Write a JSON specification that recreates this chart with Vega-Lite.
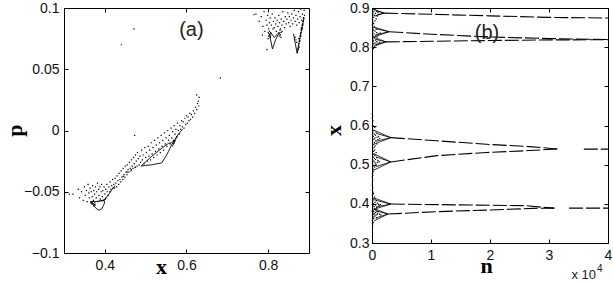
{
"$schema":"https://vega.github.io/schema/vega-lite/v6.json",
"background":"white",
"padding":{"left":2,"top":0,"right":0,"bottom":0},
"config":{
 "view":{"stroke":"black","strokeWidth":1},
 "axis":{"domain":false,"grid":false,"tickColor":"black","tickSize":-4,"tickWidth":1,"labelFont":"Liberation Sans","labelFontSize":14,"labelColor":"#111","labelFlush":false,"labelPadding":9,"titleFont":"Liberation Serif","titleFontWeight":"bold","titleColor":"black","titleFontSize":22}
},
"datasets":{
 "ptsA":[
{"x":0.313,"p":-0.052},{"x":0.322,"p":-0.052},{"x":0.335,"p":-0.048},{"x":0.338,"p":-0.055},{"x":0.343,"p":-0.05},{"x":0.347,"p":-0.057},{"x":0.35,"p":-0.046},{"x":0.352,"p":-0.053},{"x":0.355,"p":-0.049},{"x":0.357,"p":-0.058},
{"x":0.359,"p":-0.044},{"x":0.361,"p":-0.051},{"x":0.362,"p":-0.055},{"x":0.364,"p":-0.047},{"x":0.366,"p":-0.059},{"x":0.367,"p":-0.05},{"x":0.369,"p":-0.054},{"x":0.37,"p":-0.045},{"x":0.372,"p":-0.057},{"x":0.373,"p":-0.049},
{"x":0.375,"p":-0.052},{"x":0.376,"p":-0.06},{"x":0.377,"p":-0.046},{"x":0.379,"p":-0.055},{"x":0.38,"p":-0.05},{"x":0.382,"p":-0.043},{"x":0.383,"p":-0.058},{"x":0.385,"p":-0.048},{"x":0.386,"p":-0.053},{"x":0.388,"p":-0.046},
{"x":0.389,"p":-0.056},{"x":0.391,"p":-0.05},{"x":0.392,"p":-0.044},{"x":0.394,"p":-0.054},{"x":0.395,"p":-0.049},{"x":0.397,"p":-0.057},{"x":0.398,"p":-0.046},{"x":0.4,"p":-0.052},{"x":0.402,"p":-0.048},{"x":0.403,"p":-0.055},
{"x":0.405,"p":-0.044},{"x":0.406,"p":-0.05},{"x":0.408,"p":-0.053},{"x":0.41,"p":-0.046},{"x":0.412,"p":-0.05},{"x":0.413,"p":-0.042},{"x":0.415,"p":-0.048},{"x":0.417,"p":-0.045},{"x":0.419,"p":-0.04},{"x":0.42,"p":-0.047},
{"x":0.366,"p":-0.0585},{"x":0.368,"p":-0.059},{"x":0.37,"p":-0.0595},{"x":0.372,"p":-0.06},{"x":0.374,"p":-0.0605},{"x":0.376,"p":-0.061},{"x":0.371,"p":-0.058},{"x":0.375,"p":-0.0585},{"x":0.369,"p":-0.06},{"x":0.373,"p":-0.0615},
{"x":0.388,"p":-0.0575},{"x":0.392,"p":-0.0572},{"x":0.396,"p":-0.057},{"x":0.399,"p":-0.0565},{"x":0.401,"p":-0.056},
{"x":0.422,"p":-0.044},{"x":0.424,"p":-0.047},{"x":0.425,"p":-0.039},{"x":0.427,"p":-0.043},{"x":0.429,"p":-0.046},{"x":0.43,"p":-0.037},{"x":0.432,"p":-0.041},{"x":0.434,"p":-0.044},{"x":0.435,"p":-0.035},{"x":0.437,"p":-0.04},
{"x":0.439,"p":-0.042},{"x":0.44,"p":-0.033},{"x":0.442,"p":-0.038},{"x":0.444,"p":-0.04},{"x":0.445,"p":-0.031},{"x":0.447,"p":-0.036},{"x":0.449,"p":-0.038},{"x":0.45,"p":-0.029},{"x":0.452,"p":-0.034},{"x":0.454,"p":-0.036},
{"x":0.455,"p":-0.028},{"x":0.457,"p":-0.032},{"x":0.459,"p":-0.034},{"x":0.46,"p":-0.026},{"x":0.462,"p":-0.031},{"x":0.464,"p":-0.033},{"x":0.465,"p":-0.024},{"x":0.467,"p":-0.029},{"x":0.469,"p":-0.031},{"x":0.47,"p":-0.022},
{"x":0.472,"p":-0.027},{"x":0.474,"p":-0.03},{"x":0.475,"p":-0.02},{"x":0.477,"p":-0.025},{"x":0.479,"p":-0.029},{"x":0.48,"p":-0.018},{"x":0.482,"p":-0.023},{"x":0.484,"p":-0.028},{"x":0.486,"p":-0.021},{"x":0.488,"p":-0.026},
{"x":0.49,"p":-0.016},{"x":0.492,"p":-0.024},{"x":0.494,"p":-0.02},{"x":0.496,"p":-0.027},{"x":0.498,"p":-0.014},{"x":0.5,"p":-0.022},
{"x":0.445,"p":-0.0375},{"x":0.455,"p":-0.034},{"x":0.465,"p":-0.032},{"x":0.475,"p":-0.03},
{"x":0.502,"p":-0.018},{"x":0.504,"p":-0.025},{"x":0.506,"p":-0.013},{"x":0.508,"p":-0.021},{"x":0.51,"p":-0.016},{"x":0.512,"p":-0.024},{"x":0.514,"p":-0.01},{"x":0.516,"p":-0.019},{"x":0.518,"p":-0.014},{"x":0.52,"p":-0.022},
{"x":0.522,"p":-0.008},{"x":0.524,"p":-0.017},{"x":0.526,"p":-0.012},{"x":0.528,"p":-0.02},{"x":0.53,"p":-0.006},{"x":0.532,"p":-0.015},{"x":0.534,"p":-0.01},{"x":0.536,"p":-0.018},{"x":0.538,"p":-0.004},{"x":0.54,"p":-0.013},
{"x":0.542,"p":-0.008},{"x":0.544,"p":-0.016},{"x":0.546,"p":-0.002},{"x":0.548,"p":-0.011},{"x":0.55,"p":-0.006},{"x":0.552,"p":-0.013},{"x":0.554,"p":0.0},{"x":0.556,"p":-0.008},{"x":0.558,"p":-0.004},{"x":0.56,"p":-0.011},
{"x":0.562,"p":0.002},{"x":0.564,"p":-0.006},{"x":0.566,"p":-0.001},{"x":0.568,"p":-0.008},{"x":0.57,"p":0.004},{"x":0.572,"p":-0.003},{"x":0.574,"p":0.001},{"x":0.576,"p":-0.005},{"x":0.578,"p":0.006},{"x":0.58,"p":0.0},
{"x":0.582,"p":-0.003},{"x":0.584,"p":0.004},{"x":0.586,"p":0.001},{"x":0.588,"p":0.008},{"x":0.59,"p":0.003},{"x":0.592,"p":0.007},{"x":0.594,"p":0.002},{"x":0.596,"p":0.01},{"x":0.598,"p":0.005},{"x":0.6,"p":0.012},
{"x":0.602,"p":0.006},{"x":0.604,"p":0.011},{"x":0.606,"p":0.008},{"x":0.608,"p":0.014},{"x":0.61,"p":0.009},{"x":0.612,"p":0.013},{"x":0.615,"p":0.011},{"x":0.617,"p":0.016},{"x":0.62,"p":0.014},{"x":0.622,"p":0.019},
{"x":0.625,"p":0.017},{"x":0.627,"p":0.022},{"x":0.629,"p":0.024},{"x":0.63,"p":0.02},{"x":0.625,"p":0.029},{"x":0.631,"p":0.027},
{"x":0.566,"p":-0.0125},{"x":0.568,"p":-0.011},{"x":0.57,"p":-0.0095},{"x":0.572,"p":-0.008},{"x":0.574,"p":-0.0065},{"x":0.576,"p":-0.005},{"x":0.569,"p":-0.0105},{"x":0.571,"p":-0.0088},
{"x":0.4714,"p":0.0829},{"x":0.4405,"p":0.07},{"x":0.683,"p":0.0429},{"x":0.473,"p":-0.004},{"x":0.765,"p":0.0945},
{"x":0.77,"p":0.095},{"x":0.778,"p":0.089},{"x":0.783,"p":0.093},{"x":0.787,"p":0.085},{"x":0.79,"p":0.097},{"x":0.792,"p":0.081},{"x":0.795,"p":0.09},{"x":0.797,"p":0.086},{"x":0.799,"p":0.094},{"x":0.801,"p":0.083},
{"x":0.803,"p":0.088},{"x":0.805,"p":0.092},{"x":0.806,"p":0.08},{"x":0.808,"p":0.086},{"x":0.81,"p":0.095},{"x":0.812,"p":0.083},{"x":0.813,"p":0.089},{"x":0.815,"p":0.084},{"x":0.817,"p":0.092},{"x":0.818,"p":0.087},
{"x":0.82,"p":0.081},{"x":0.822,"p":0.09},{"x":0.824,"p":0.085},{"x":0.826,"p":0.094},{"x":0.828,"p":0.088},{"x":0.83,"p":0.083},{"x":0.832,"p":0.091},{"x":0.834,"p":0.086},{"x":0.836,"p":0.097},{"x":0.838,"p":0.089},
{"x":0.84,"p":0.084},{"x":0.842,"p":0.093},{"x":0.844,"p":0.087},{"x":0.846,"p":0.091},{"x":0.848,"p":0.096},{"x":0.85,"p":0.088},{"x":0.852,"p":0.093},{"x":0.854,"p":0.085},{"x":0.856,"p":0.09},{"x":0.858,"p":0.095},
{"x":0.86,"p":0.087},{"x":0.862,"p":0.092},{"x":0.864,"p":0.098},{"x":0.866,"p":0.089},{"x":0.868,"p":0.094},{"x":0.87,"p":0.086},{"x":0.872,"p":0.091},{"x":0.874,"p":0.097},{"x":0.876,"p":0.088},{"x":0.878,"p":0.093},
{"x":0.88,"p":0.099},{"x":0.882,"p":0.09},{"x":0.884,"p":0.095},{"x":0.886,"p":0.092},{"x":0.888,"p":0.098},{"x":0.889,"p":0.094},{"x":0.885,"p":0.086},{"x":0.881,"p":0.083},{"x":0.8,"p":0.075},{"x":0.797,"p":0.066},{"x":0.786,"p":0.078},
{"x":0.8,"p":0.08},{"x":0.802,"p":0.079},{"x":0.804,"p":0.078},{"x":0.806,"p":0.077},{"x":0.801,"p":0.077},{"x":0.803,"p":0.081},{"x":0.805,"p":0.076},{"x":0.807,"p":0.079},
{"x":0.826,"p":0.08},{"x":0.828,"p":0.079},{"x":0.83,"p":0.078},{"x":0.832,"p":0.08},{"x":0.829,"p":0.082},{"x":0.831,"p":0.076},{"x":0.827,"p":0.077},{"x":0.834,"p":0.081},
{"x":0.872,"p":0.064},{"x":0.873,"p":0.067},{"x":0.874,"p":0.069},{"x":0.875,"p":0.071},{"x":0.876,"p":0.073},{"x":0.877,"p":0.075},{"x":0.878,"p":0.077},{"x":0.879,"p":0.079},{"x":0.88,"p":0.08},{"x":0.881,"p":0.082},
{"x":0.882,"p":0.084},{"x":0.883,"p":0.086},{"x":0.884,"p":0.087},{"x":0.885,"p":0.089},{"x":0.886,"p":0.09},{"x":0.887,"p":0.092},{"x":0.87,"p":0.072},{"x":0.868,"p":0.074},{"x":0.866,"p":0.076},{"x":0.875,"p":0.075},
{"x":0.878,"p":0.073},{"x":0.874,"p":0.066},{"x":0.876,"p":0.068},{"x":0.88,"p":0.077},{"x":0.884,"p":0.083}
 ],
 "lnA":[
{"c":"c1","o":0,"x":0.365,"p":-0.058},{"c":"c1","o":1,"x":0.372,"p":-0.061},{"c":"c1","o":2,"x":0.38,"p":-0.064},{"c":"c1","o":3,"x":0.386,"p":-0.065},{"c":"c1","o":4,"x":0.392,"p":-0.064},{"c":"c1","o":5,"x":0.397,"p":-0.061},{"c":"c1","o":6,"x":0.4,"p":-0.058},{"c":"c1","o":7,"x":0.396,"p":-0.057},{"c":"c1","o":8,"x":0.388,"p":-0.0575},{"c":"c1","o":9,"x":0.378,"p":-0.058},{"c":"c1","o":10,"x":0.365,"p":-0.058},
{"c":"c2","o":0,"x":0.395,"p":-0.058},{"c":"c2","o":1,"x":0.403,"p":-0.055},{"c":"c2","o":2,"x":0.41,"p":-0.052},{"c":"c2","o":3,"x":0.418,"p":-0.048},{"c":"c2","o":4,"x":0.425,"p":-0.045},
{"c":"c3","o":0,"x":0.489,"p":-0.029},{"c":"c3","o":1,"x":0.5,"p":-0.0285},{"c":"c3","o":2,"x":0.515,"p":-0.028},{"c":"c3","o":3,"x":0.53,"p":-0.027},{"c":"c3","o":4,"x":0.539,"p":-0.0265},{"c":"c3","o":5,"x":0.548,"p":-0.022},{"c":"c3","o":6,"x":0.556,"p":-0.017},{"c":"c3","o":7,"x":0.563,"p":-0.012},{"c":"c3","o":8,"x":0.571,"p":-0.008},
{"c":"c4","o":0,"x":0.489,"p":-0.029},{"c":"c4","o":1,"x":0.502,"p":-0.025},{"c":"c4","o":2,"x":0.515,"p":-0.021},{"c":"c4","o":3,"x":0.53,"p":-0.017},{"c":"c4","o":4,"x":0.545,"p":-0.013},{"c":"c4","o":5,"x":0.556,"p":-0.0105},{"c":"c4","o":6,"x":0.563,"p":-0.01},{"c":"c4","o":7,"x":0.571,"p":-0.008},{"c":"c4","o":8,"x":0.58,"p":-0.003},{"c":"c4","o":9,"x":0.59,"p":0.001},
{"c":"c5","o":0,"x":0.803,"p":0.079},{"c":"c5","o":1,"x":0.806,"p":0.074},{"c":"c5","o":2,"x":0.809,"p":0.069},{"c":"c5","o":3,"x":0.8105,"p":0.0665},{"c":"c5","o":4,"x":0.813,"p":0.069},{"c":"c5","o":5,"x":0.818,"p":0.074},{"c":"c5","o":6,"x":0.824,"p":0.078},{"c":"c5","o":7,"x":0.83,"p":0.08},
{"c":"c6","o":0,"x":0.806,"p":0.08},{"c":"c6","o":1,"x":0.815,"p":0.076},{"c":"c6","o":2,"x":0.826,"p":0.08},
{"c":"c7","o":0,"x":0.862,"p":0.079},{"c":"c7","o":1,"x":0.867,"p":0.07},{"c":"c7","o":2,"x":0.871,"p":0.063},{"c":"c7","o":3,"x":0.876,"p":0.072},{"c":"c7","o":4,"x":0.882,"p":0.082},{"c":"c7","o":5,"x":0.888,"p":0.092}
 ],
 "ptsB":[
{"n":100,"x":0.345},{"n":200,"x":0.352},{"n":50,"x":0.358},{"n":300,"x":0.362},{"n":150,"x":0.366},{"n":500,"x":0.369},{"n":80,"x":0.371},{"n":250,"x":0.373},{"n":700,"x":0.372},{"n":400,"x":0.375},
{"n":120,"x":0.377},{"n":900,"x":0.374},{"n":600,"x":0.378},{"n":300,"x":0.38},{"n":200,"x":0.384},{"n":1000,"x":0.376},{"n":450,"x":0.386},{"n":100,"x":0.389},{"n":800,"x":0.391},{"n":350,"x":0.393},
{"n":150,"x":0.395},{"n":600,"x":0.397},{"n":1100,"x":0.399},{"n":250,"x":0.401},{"n":900,"x":0.402},{"n":500,"x":0.404},{"n":100,"x":0.406},{"n":700,"x":0.408},{"n":300,"x":0.41},{"n":200,"x":0.414},
{"n":450,"x":0.418},{"n":80,"x":0.422},{"n":250,"x":0.426},{"n":150,"x":0.43},{"n":60,"x":0.435},{"n":120,"x":0.441},{"n":50,"x":0.448},{"n":1300,"x":0.373},{"n":1400,"x":0.398},{"n":1200,"x":0.396},
{"n":1500,"x":0.372},{"n":350,"x":0.367},{"n":650,"x":0.384},{"n":750,"x":0.364},{"n":30,"x":0.381},{"n":40,"x":0.399},{"n":550,"x":0.412},{"n":850,"x":0.381},
{"n":60,"x":0.455},{"n":100,"x":0.462},{"n":40,"x":0.468},{"n":150,"x":0.473},{"n":80,"x":0.478},{"n":200,"x":0.482},{"n":300,"x":0.487},{"n":120,"x":0.49},{"n":450,"x":0.494},{"n":250,"x":0.497},
{"n":700,"x":0.5},{"n":100,"x":0.502},{"n":550,"x":0.504},{"n":900,"x":0.506},{"n":350,"x":0.508},{"n":1200,"x":0.508},{"n":150,"x":0.511},{"n":600,"x":0.513},{"n":1000,"x":0.511},{"n":400,"x":0.516},
{"n":800,"x":0.518},{"n":200,"x":0.52},{"n":500,"x":0.523},{"n":300,"x":0.526},{"n":100,"x":0.529},{"n":700,"x":0.531},{"n":250,"x":0.534},{"n":450,"x":0.537},{"n":150,"x":0.54},{"n":350,"x":0.544},
{"n":550,"x":0.548},{"n":200,"x":0.551},{"n":800,"x":0.553},{"n":400,"x":0.556},{"n":100,"x":0.559},{"n":650,"x":0.561},{"n":1000,"x":0.564},{"n":300,"x":0.565},{"n":1300,"x":0.567},{"n":500,"x":0.568},
{"n":850,"x":0.57},{"n":200,"x":0.572},{"n":1100,"x":0.572},{"n":600,"x":0.575},{"n":400,"x":0.578},{"n":150,"x":0.581},{"n":700,"x":0.583},{"n":300,"x":0.587},{"n":100,"x":0.591},{"n":450,"x":0.595},
{"n":200,"x":0.6},{"n":80,"x":0.606},{"n":150,"x":0.612},{"n":50,"x":0.618},{"n":100,"x":0.625},{"n":40,"x":0.63},
{"n":100,"x":0.793},{"n":250,"x":0.797},{"n":60,"x":0.801},{"n":400,"x":0.803},{"n":150,"x":0.806},{"n":700,"x":0.807},{"n":300,"x":0.809},{"n":1000,"x":0.81},{"n":500,"x":0.811},{"n":100,"x":0.813},
{"n":800,"x":0.814},{"n":250,"x":0.816},{"n":1300,"x":0.812},{"n":600,"x":0.818},{"n":150,"x":0.821},{"n":400,"x":0.824},{"n":900,"x":0.826},{"n":200,"x":0.828},{"n":650,"x":0.83},{"n":1100,"x":0.833},
{"n":350,"x":0.834},{"n":1400,"x":0.836},{"n":800,"x":0.837},{"n":100,"x":0.839},{"n":500,"x":0.841},{"n":250,"x":0.844},{"n":700,"x":0.846},{"n":150,"x":0.849},{"n":400,"x":0.852},{"n":80,"x":0.856},
{"n":300,"x":0.86},{"n":150,"x":0.864},{"n":500,"x":0.867},{"n":100,"x":0.87},{"n":700,"x":0.873},{"n":250,"x":0.876},{"n":900,"x":0.879},{"n":400,"x":0.881},{"n":1200,"x":0.884},{"n":150,"x":0.884},
{"n":600,"x":0.886},{"n":1000,"x":0.889},{"n":300,"x":0.89},{"n":800,"x":0.892},{"n":100,"x":0.894},{"n":500,"x":0.896},{"n":200,"x":0.898}
 ],
 "lnB":[
{"b":"t1","n":2070,"x":0.887},{"b":"t1","n":10000,"x":0.884},{"b":"t1","n":20000,"x":0.88},{"b":"t1","n":30000,"x":0.876},{"b":"t1","n":40000,"x":0.8745},
{"b":"t2","n":2910,"x":0.8395},{"b":"t2","n":10000,"x":0.833},{"b":"t2","n":20000,"x":0.826},{"b":"t2","n":30000,"x":0.822},{"b":"t2","n":40000,"x":0.8195},
{"b":"t3","n":2350,"x":0.8135},{"b":"t3","n":10000,"x":0.815},{"b":"t3","n":20000,"x":0.817},{"b":"t3","n":30000,"x":0.8185},{"b":"t3","n":40000,"x":0.819},
{"b":"m1","n":3190,"x":0.569},{"b":"m1","n":11000,"x":0.561},{"b":"m1","n":19400,"x":0.552},{"b":"m1","n":26700,"x":0.546},{"b":"m1","n":31500,"x":0.54},
{"b":"m2","n":3190,"x":0.507},{"b":"m2","n":11000,"x":0.523},{"b":"m2","n":19400,"x":0.531},{"b":"m2","n":26700,"x":0.536},{"b":"m2","n":31500,"x":0.54},
{"b":"m3","n":35900,"x":0.5396},{"b":"m3","n":40000,"x":0.5396},
{"b":"l1","n":3190,"x":0.3994},{"b":"l1","n":16600,"x":0.397},{"b":"l1","n":26000,"x":0.3953},{"b":"l1","n":29000,"x":0.391},{"b":"l1","n":30900,"x":0.389},
{"b":"l2","n":2700,"x":0.374},{"b":"l2","n":11000,"x":0.38},{"b":"l2","n":19400,"x":0.384},{"b":"l2","n":27300,"x":0.3884},{"b":"l2","n":30900,"x":0.389},
{"b":"l3","n":33400,"x":0.389},{"b":"l3","n":40000,"x":0.389}
 ],
 "spB":[
{"s":"a1","n":200,"x":0.897},{"s":"a1","n":2070,"x":0.887},{"s":"a2","n":400,"x":0.879},{"s":"a2","n":2070,"x":0.887},{"s":"a3","n":600,"x":0.893},{"s":"a3","n":2070,"x":0.887},{"s":"a4","n":800,"x":0.882},{"s":"a4","n":2070,"x":0.887},
{"s":"b1","n":200,"x":0.852},{"s":"b1","n":2910,"x":0.8395},{"s":"b2","n":300,"x":0.826},{"s":"b2","n":2910,"x":0.8395},{"s":"b3","n":600,"x":0.847},{"s":"b3","n":2910,"x":0.8395},{"s":"b4","n":700,"x":0.832},{"s":"b4","n":2910,"x":0.8395},
{"s":"c1","n":200,"x":0.826},{"s":"c1","n":2350,"x":0.8135},{"s":"c2","n":300,"x":0.802},{"s":"c2","n":2350,"x":0.8135},{"s":"c3","n":600,"x":0.82},{"s":"c3","n":2350,"x":0.8135},{"s":"c4","n":700,"x":0.807},{"s":"c4","n":2350,"x":0.8135},
{"s":"d1","n":300,"x":0.588},{"s":"d1","n":3190,"x":0.569},{"s":"d2","n":300,"x":0.552},{"s":"d2","n":3190,"x":0.569},{"s":"d3","n":700,"x":0.58},{"s":"d3","n":3190,"x":0.569},{"s":"d4","n":700,"x":0.56},{"s":"d4","n":3190,"x":0.569},
{"s":"e1","n":300,"x":0.528},{"s":"e1","n":3190,"x":0.507},{"s":"e2","n":300,"x":0.486},{"s":"e2","n":3190,"x":0.507},{"s":"e3","n":700,"x":0.52},{"s":"e3","n":3190,"x":0.507},{"s":"e4","n":700,"x":0.495},{"s":"e4","n":3190,"x":0.507},
{"s":"f1","n":300,"x":0.415},{"s":"f1","n":3190,"x":0.3994},{"s":"f2","n":300,"x":0.386},{"s":"f2","n":3190,"x":0.3994},{"s":"f3","n":700,"x":0.409},{"s":"f3","n":3190,"x":0.3994},{"s":"f4","n":700,"x":0.392},{"s":"f4","n":3190,"x":0.3994},
{"s":"g1","n":300,"x":0.388},{"s":"g1","n":2700,"x":0.374},{"s":"g2","n":300,"x":0.356},{"s":"g2","n":2700,"x":0.374},{"s":"g3","n":700,"x":0.382},{"s":"g3","n":2700,"x":0.374},{"s":"g4","n":700,"x":0.364},{"s":"g4","n":2700,"x":0.374}
 ]
},
"bounds":"flush",
"spacing":63,
"hconcat":[
 {
  "width":245,"height":245,
  "layer":[
   {"data":{"name":"ptsA"},"mark":{"type":"square","size":1.5,"color":"black","opacity":1},
    "encoding":{
     "x":{"field":"x","type":"quantitative","scale":{"domain":[0.3,0.9],"nice":false,"zero":false},
      "axis":{"orient":"bottom","values":[0.4,0.6,0.8],"format":".1f","title":"x","titleX":97,"titleY":20,"titleBaseline":"alphabetic","titleAlign":"center","titleAnchor":null}},
     "y":{"field":"p","type":"quantitative","scale":{"domain":[-0.1,0.1],"nice":false,"zero":false},
      "axis":{"orient":"left","values":[-0.1,-0.05,0,0.05,0.1],"format":"~g","title":"p","titleX":-50,"titleY":122,"titleBaseline":"middle","titleAlign":"center","titleAngle":-90,"titleAnchor":null}}}},
   {"data":{"name":"lnA"},"mark":{"type":"line","color":"black","strokeWidth":0.9},
    "encoding":{
     "x":{"field":"x","type":"quantitative","scale":{"domain":[0.3,0.9],"nice":false,"zero":false},"axis":null},
     "y":{"field":"p","type":"quantitative","scale":{"domain":[-0.1,0.1],"nice":false,"zero":false},"axis":null},
     "detail":{"field":"c"},"order":{"field":"o","type":"quantitative"}}},
   {"data":{"values":[{"x":0.612,"p":0.0823,"t":"(a)"}]},"mark":{"type":"text","font":"Liberation Sans","fontSize":20,"color":"#222","align":"center","baseline":"middle"},
    "encoding":{
     "x":{"field":"x","type":"quantitative","scale":{"domain":[0.3,0.9],"nice":false,"zero":false},"axis":{"orient":"top","values":[0.4,0.6,0.8],"labels":false,"title":null}},
     "y":{"field":"p","type":"quantitative","scale":{"domain":[-0.1,0.1],"nice":false,"zero":false},"axis":{"orient":"right","values":[-0.1,-0.05,0,0.05,0.1],"labels":false,"title":null}},
     "text":{"field":"t"}}}
  ],
  "resolve":{"axis":{"x":"independent","y":"independent"}}
 },
 {
  "width":236,"height":235,
  "layer":[
   {"data":{"name":"ptsB"},"mark":{"type":"square","size":1.5,"color":"black","opacity":1},
    "encoding":{
     "x":{"field":"n","type":"quantitative","scale":{"domain":[0,40000],"nice":false,"zero":false},
      "axis":{"orient":"bottom","values":[0,10000,20000,30000,40000],"labelExpr":"format(datum.value/10000,'d')","title":"n","titleX":114,"titleY":29,"titleBaseline":"alphabetic","titleAlign":"center","titleAnchor":null}},
     "y":{"field":"x","type":"quantitative","scale":{"domain":[0.3,0.9],"nice":false,"zero":false},
      "axis":{"orient":"left","values":[0.3,0.4,0.5,0.6,0.7,0.8,0.9],"format":".1f","labelPadding":7,"title":"x","titleX":-39,"titleY":122,"titleBaseline":"middle","titleAlign":"center","titleAngle":-90,"titleAnchor":null}}}},
   {"data":{"name":"spB"},"mark":{"type":"line","color":"black","strokeWidth":0.8},
    "encoding":{
     "x":{"field":"n","type":"quantitative","scale":{"domain":[0,40000],"nice":false,"zero":false},"axis":null},
     "y":{"field":"x","type":"quantitative","scale":{"domain":[0.3,0.9],"nice":false,"zero":false},"axis":null},
     "detail":{"field":"s"}}},
   {"data":{"name":"lnB"},"mark":{"type":"line","color":"black","strokeWidth":1.1,"strokeDash":[14,3]},
    "encoding":{
     "x":{"field":"n","type":"quantitative","scale":{"domain":[0,40000],"nice":false,"zero":false},"axis":null},
     "y":{"field":"x","type":"quantitative","scale":{"domain":[0.3,0.9],"nice":false,"zero":false},"axis":null},
     "detail":{"field":"b"}}},
   {"data":{"values":[{"n":19500,"x":0.837,"t":"(b)"}]},"mark":{"type":"text","font":"Liberation Sans","fontSize":20,"color":"#222","align":"center","baseline":"middle"},
    "encoding":{
     "x":{"field":"n","type":"quantitative","scale":{"domain":[0,40000],"nice":false,"zero":false},"axis":{"orient":"top","values":[0,10000,20000,30000,40000],"labels":false,"title":null}},
     "y":{"field":"x","type":"quantitative","scale":{"domain":[0.3,0.9],"nice":false,"zero":false},"axis":{"orient":"right","values":[0.3,0.4,0.5,0.6,0.7,0.8,0.9],"labels":false,"title":null}},
     "text":{"field":"t"}}},
   {"data":{"values":[{"n":40000,"x":0.3,"t":"x 10"}]},"mark":{"type":"text","font":"Liberation Sans","fontSize":13,"color":"#222","align":"right","baseline":"alphabetic","dx":-12,"dy":36},
    "encoding":{
     "x":{"field":"n","type":"quantitative","scale":{"domain":[0,40000],"nice":false,"zero":false},"axis":null},
     "y":{"field":"x","type":"quantitative","scale":{"domain":[0.3,0.9],"nice":false,"zero":false},"axis":null},
     "text":{"field":"t"}}},
   {"data":{"values":[{"n":40000,"x":0.3,"t":"4"}]},"mark":{"type":"text","font":"Liberation Sans","fontSize":10,"color":"#222","align":"left","baseline":"alphabetic","dx":-11,"dy":29},
    "encoding":{
     "x":{"field":"n","type":"quantitative","scale":{"domain":[0,40000],"nice":false,"zero":false},"axis":null},
     "y":{"field":"x","type":"quantitative","scale":{"domain":[0.3,0.9],"nice":false,"zero":false},"axis":null},
     "text":{"field":"t"}}}
  ],
  "resolve":{"axis":{"x":"independent","y":"independent"}}
 }
]
}
